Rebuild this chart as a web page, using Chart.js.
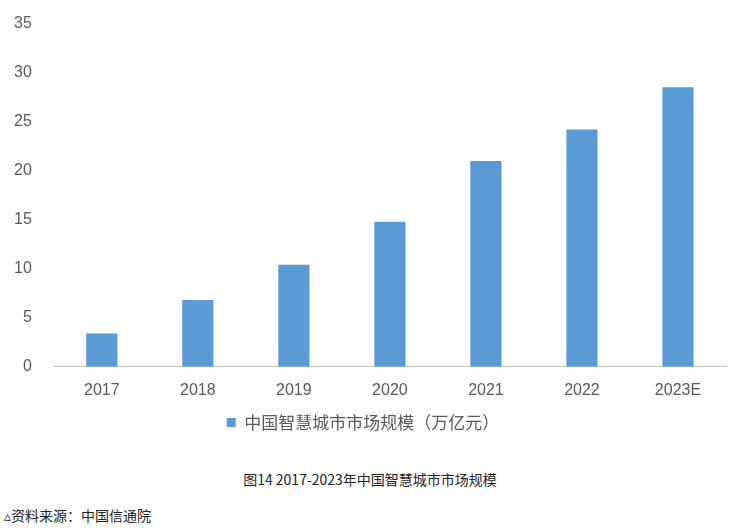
<!DOCTYPE html>
<html>
<head>
<meta charset="utf-8">
<script src="https://cdn.jsdelivr.net/npm/chart.js@4/dist/chart.umd.min.js"></script>
<style>
  body { margin: 0; background: #fff; font-family: "Noto Sans CJK SC", sans-serif; }
  #wrap { width: 740px; height: 445px; position: relative; }
  .caption { position: absolute; top: 469px; width: 740px; text-align: center; font-size: 14px; color: #222; }
  .source { position: absolute; top: 505px; left: 4px; font-size: 14px; color: #222; }
</style>
</head>
<body>
<div id="wrap"><canvas id="myChart"></canvas></div>
<div class="caption">图14 2017-2023年中国智慧城市市场规模</div>
<div class="source">▵资料来源：中国信通院</div>
<script>
const categories = ['2017', '2018', '2019', '2020', '2021', '2022', '2023E'];
const marketSize = [3.4, 6.8, 10.4, 14.8, 21.0, 24.2, 28.5];
const yTicks = [0, 5, 10, 15, 20, 25, 30, 35];

const ctx = document.getElementById('myChart').getContext('2d');
new Chart(ctx, {
    type: 'bar',
    data: {
        labels: categories,
        datasets: [{
            label: '中国智慧城市市场规模（万亿元）',
            data: marketSize,
            backgroundColor: '#5b9bd5',
            categoryPercentage: 0.65,
            barPercentage: 0.5
        }]
    },
    options: {
        responsive: true,
        maintainAspectRatio: false,
        animation: false,
        layout: { padding: { left: 0, right: 14, top: 20, bottom: 4 } },
        plugins: {
            legend: {
                position: 'bottom',
                labels: {
                    boxWidth: 9, boxHeight: 9, padding: 8,
                    color: '#595959',
                    font: { size: 17, family: '"Noto Sans CJK SC", sans-serif' }
                }
            },
            tooltip: { enabled: false }
        },
        scales: {
            y: {
                min: 0, max: 35,
                afterBuildTicks: axis => { axis.ticks = yTicks.map(v => ({ value: v })); },
                grid: { display: false },
                border: { display: false },
                ticks: { color: '#595959', font: { size: 16, family: '"Liberation Sans", sans-serif' }, padding: 14 }
            },
            x: {
                grid: { display: false },
                border: { color: '#bfbfbf' },
                ticks: { color: '#595959', font: { size: 16, family: '"Liberation Sans", sans-serif' }, padding: 6 }
            }
        }
    }
});
</script>
</body>
</html>
